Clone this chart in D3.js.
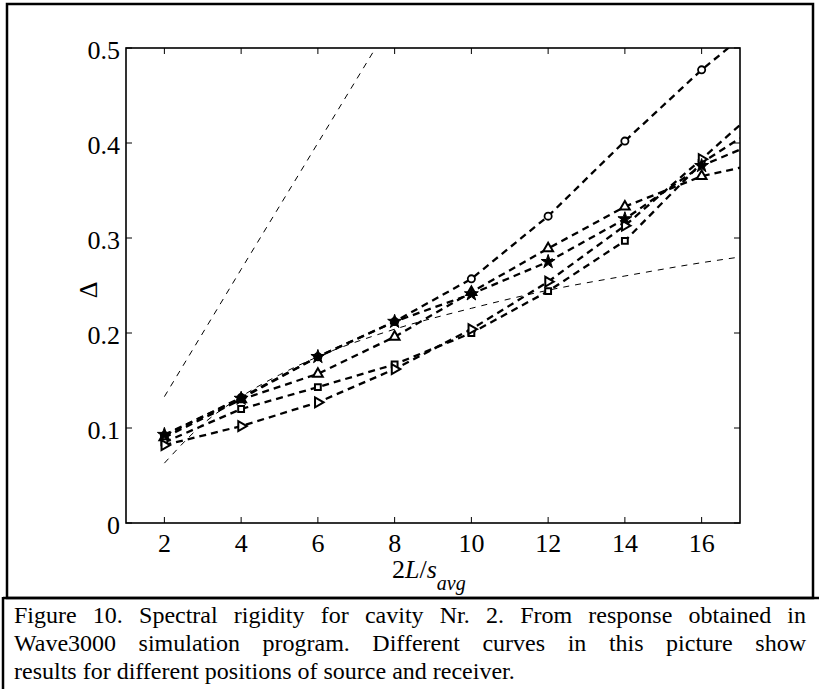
<!DOCTYPE html>
<html><head><meta charset="utf-8">
<script src="https://cdn.jsdelivr.net/npm/d3@7"></script>
<style>body{margin:0;background:#fff}svg{display:block}</style>
</head><body>
<svg id="c" width="819" height="689"></svg>
<script>
// ---- data ----
const xTicks = [2, 4, 6, 8, 10, 12, 14, 16];
const yTicks = [0, 0.1, 0.2, 0.3, 0.4, 0.5];
const yTickLabels = ["0", "0.1", "0.2", "0.3", "0.4", "0.5"];
const seriesX = [2, 4, 6, 8, 10, 12, 14, 16, 17];
const circleVals   = [0.092, 0.132, 0.175, 0.212, 0.257, 0.323, 0.402, 0.477, 0.510];
const starVals     = [0.093, 0.131, 0.175, 0.212, 0.241, 0.275, 0.320, 0.376, 0.393];
const triUpVals    = [0.090, 0.130, 0.157, 0.196, 0.243, 0.289, 0.333, 0.365, 0.374];
const squareVals   = [0.085, 0.120, 0.143, 0.167, 0.200, 0.244, 0.297, 0.379, 0.405];
const triRightVals = [0.082, 0.102, 0.127, 0.162, 0.204, 0.254, 0.313, 0.383, 0.419];
const poissonX = [2, 4, 6, 8];
const poissonY = [0.133, 0.267, 0.400, 0.533];
const goeX = [2, 3, 4, 5, 6, 8, 10, 12, 14, 16, 17];
const goeY = [0.063, 0.104, 0.133, 0.156, 0.175, 0.204, 0.226, 0.245, 0.260, 0.274, 0.280];
const captionLines = [
  "Figure 10. Spectral rigidity for cavity Nr. 2. From response obtained in",
  "Wave3000 simulation program. Different curves in this picture show",
  "results for different positions of source and receiver."
];

const svg = d3.select("#c");
const serif = "'Liberation Serif','Times New Roman',serif";

// frames
svg.append("rect").attr("x", 7).attr("y", 4).attr("width", 806).attr("height", 594)
  .attr("fill", "none").attr("stroke", "#000").attr("stroke-width", 2.5);
svg.append("line").attr("x1", 3).attr("x2", 819).attr("y1", 598).attr("y2", 598)
  .attr("stroke", "#000").attr("stroke-width", 2.5);
svg.append("line").attr("x1", 3).attr("x2", 3).attr("y1", 597).attr("y2", 689)
  .attr("stroke", "#000").attr("stroke-width", 2.5);

const L = 126, R = 740, T = 48, B = 523;
const x = d3.scaleLinear().domain([1, 17]).range([L, R]);
const y = d3.scaleLinear().domain([0, 0.5]).range([B, T]);

svg.append("defs").append("clipPath").attr("id", "clip")
  .append("rect").attr("x", L).attr("y", T).attr("width", R - L).attr("height", B - T);

const plot = svg.append("g").attr("clip-path", "url(#clip)");

// reference thin lines
const line = d3.line().x(d => x(d[0])).y(d => y(d[1]));
plot.append("path").datum(poissonX.map((v, i) => [v, poissonY[i]]))
  .attr("d", line).attr("fill", "none").attr("stroke", "#000")
  .attr("stroke-width", 1).attr("stroke-dasharray", "6,6");
plot.append("path").datum(goeX.map((v, i) => [v, goeY[i]]))
  .attr("d", line.curve(d3.curveMonotoneX)).attr("fill", "none").attr("stroke", "#000")
  .attr("stroke-width", 1).attr("stroke-dasharray", "6,6");
line.curve(d3.curveLinear);

const series = [
  {vals: circleVals, sym: "circle"},
  {vals: triUpVals, sym: "triUp"},
  {vals: squareVals, sym: "square"},
  {vals: triRightVals, sym: "triRight"},
  {vals: starVals, sym: "star"}
];

series.forEach(s => {
  const pts = seriesX.map((v, i) => [v, s.vals[i]]);
  plot.append("path").datum(pts).attr("d", line).attr("fill", "none")
    .attr("stroke", "#000").attr("stroke-width", 2.3).attr("stroke-dasharray", "7,5");
});

series.forEach(s => {
  const pts = seriesX.map((v, i) => [v, s.vals[i]]).filter(d => d[0] % 2 === 0);
  const g = plot.append("g");
  pts.forEach(d => {
    const cx = x(d[0]), cy = y(d[1]);
    if (s.sym === "circle") {
      g.append("circle").attr("cx", cx).attr("cy", cy).attr("r", 3.6)
        .attr("fill", "#fff").attr("stroke", "#000").attr("stroke-width", 1.8);
    } else if (s.sym === "triUp") {
      g.append("path").attr("d", d3.symbol(d3.symbolTriangle, 42)())
        .attr("transform", `translate(${cx},${cy})`)
        .attr("fill", "#fff").attr("stroke", "#000").attr("stroke-width", 2);
    } else if (s.sym === "triRight") {
      g.append("path").attr("d", d3.symbol(d3.symbolTriangle, 42)())
        .attr("transform", `translate(${cx},${cy}) rotate(90)`)
        .attr("fill", "#fff").attr("stroke", "#000").attr("stroke-width", 2);
    } else if (s.sym === "square") {
      g.append("path").attr("d", d3.symbol(d3.symbolSquare, 34)())
        .attr("transform", `translate(${cx},${cy})`)
        .attr("fill", "#fff").attr("stroke", "#000").attr("stroke-width", 2);
    } else {
      g.append("path").attr("d", d3.symbol(d3.symbolStar, 60)())
        .attr("transform", `translate(${cx},${cy})`)
        .attr("fill", "#000").attr("stroke", "#000").attr("stroke-width", 1);
    }
  });
});

// axes box with inward ticks
const ax = svg.append("g").attr("stroke", "#000");
ax.append("rect").attr("x", L).attr("y", T).attr("width", R - L).attr("height", B - T)
  .attr("fill", "none").attr("stroke-width", 1.6);
const tl = 6;
xTicks.forEach(t => {
  ax.append("line").attr("x1", x(t)).attr("x2", x(t)).attr("y1", B).attr("y2", B - tl).attr("stroke-width", 1);
  ax.append("line").attr("x1", x(t)).attr("x2", x(t)).attr("y1", T).attr("y2", T + tl).attr("stroke-width", 1);
});
yTicks.forEach(t => {
  ax.append("line").attr("x1", L).attr("x2", L + tl).attr("y1", y(t)).attr("y2", y(t)).attr("stroke-width", 1);
  ax.append("line").attr("x1", R).attr("x2", R - tl).attr("y1", y(t)).attr("y2", y(t)).attr("stroke-width", 1);
});

// tick labels
const lab = svg.append("g").attr("font-family", serif).attr("font-size", 26).attr("fill", "#000");
xTicks.forEach(t => {
  lab.append("text").attr("x", x(t)).attr("y", 552).attr("text-anchor", "middle").text(t);
});
yTicks.forEach((t, i) => {
  lab.append("text").attr("x", 120).attr("y", y(t) + 11).attr("text-anchor", "end").text(yTickLabels[i]);
});

// axis labels
const xl = svg.append("text").attr("font-family", serif).attr("font-size", 26)
  .attr("x", 392).attr("y", 578);
xl.append("tspan").text("2");
xl.append("tspan").attr("font-style", "italic").text("L");
xl.append("tspan").text("/");
xl.append("tspan").attr("font-style", "italic").text("s");
xl.append("tspan").attr("font-style", "italic").attr("font-size", 20).attr("dy", 12).text("avg");

svg.append("text").attr("font-family", serif).attr("font-size", 26)
  .attr("text-anchor", "middle")
  .attr("transform", "translate(97,290) rotate(-90)").text("\u0394");

// caption (first two lines justified)
const capG = svg.append("g").attr("font-family", serif).attr("font-size", 24).attr("fill", "#000");
const bases = [623, 651, 679];
captionLines.forEach((s, i) => {
  const t = capG.append("text").attr("x", 14).attr("y", bases[i]).text(s);
  if (i < 2) {
    const w = t.node().getComputedTextLength();
    const n = (s.match(/ /g) || []).length;
    const target = 792;
    if (w < target) t.attr("word-spacing", (target - w) / n);
    else t.attr("textLength", target).attr("lengthAdjust", "spacingAndGlyphs");
  }
});
</script>
</body></html>
